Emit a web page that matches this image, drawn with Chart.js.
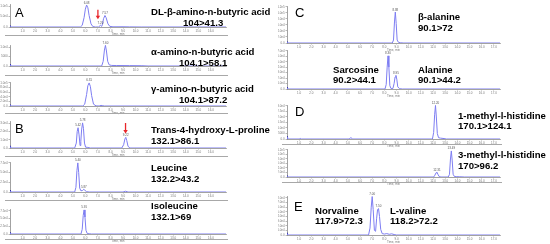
<!DOCTYPE html>
<html><head><meta charset="utf-8">
<script src="https://cdn.jsdelivr.net/npm/chart.js@4/dist/chart.umd.min.js"></script>
<style>
html,body{margin:0;padding:0;background:#fff;}
#wrap{position:relative;width:550px;height:244px;overflow:hidden;background:#fff;}
canvas{position:absolute;}
.t{position:absolute;font-family:"Liberation Sans",Arial,sans-serif;font-weight:bold;font-size:9.6px;line-height:10px;color:#000;white-space:nowrap;}
.p{position:absolute;font-family:"Liberation Sans",Arial,sans-serif;font-size:13px;line-height:13px;color:#000;}
.sep{position:absolute;height:1px;background:#a8a8a8;}
</style></head>
<body><div id="wrap"></div>
<script>
// ---------- DATA ----------
const xTicksLeft = [1,2,3,4,5,6,7,8,9,10,11,12,13,14,15,16];
const xTicksRight = [1,2,3,4,5,6,7,8,9,10,11,12,13,14,15,16,17];

// A: DL-beta-amino-n-butyric acid 104>41.3
const a1Time = [0,0.05,0.1,5.6,5.75,5.9,6.0,6.1,6.2,6.3,6.45,6.6,6.8,7.05,7.2,7.3,7.35,7.45,7.56,7.65,7.8,7.95,8.2,9.0,9.5,10.5,17.2];
const a1Int  = [2000,0,0,0,8000,45000,85000,105000,92000,55000,15000,2000,0,0,8000,3000,10000,40000,55000,45000,15000,3000,800,1000,500,0,0];
const a1YTicks = [0,50000,100000];
// alpha-amino-n-butyric acid 104.1>58.1
const a2Time = [0,0.05,0.1,7.3,7.42,7.52,7.6,7.68,7.78,7.9,8.1,8.5,9.5,10.5,11.0,17.2];
const a2Int  = [600,0,0,0,2500,8500,11000,8000,2500,600,300,250,200,150,0,0];
const a2YTicks = [0,5000,10000];
// gamma-amino-n-butyric acid 104.1>87.2
const a3Time = [0,0.05,0.1,5.8,5.95,6.1,6.2,6.3,6.4,6.5,6.65,6.85,7.1,7.25,7.35,7.5,17.2];
const a3Int  = [2500,0,0,0,8000,50000,88000,100000,85000,45000,8000,500,0,2500,2000,0,0];
const a3YTicks = [0,20000,40000,60000,80000,100000];
// B: Trans-4-hydroxy-L-proline 132.1>86.1
const b1Time = [0,0.05,0.1,5.15,5.28,5.35,5.42,5.5,5.58,5.64,5.7,5.78,5.85,5.93,6.02,6.15,6.4,8.9,9.05,9.15,9.22,9.3,9.4,9.55,17.2];
const b1Int  = [1500,0,0,0,6000,20000,24700,16000,3000,8000,22000,30600,24000,6000,1000,800,0,0,4000,11000,13000,9000,2000,0,0];
const b1YTicks = [0,10000,20000,30000];
// Leucine 132.2>43.2
const b2Time = [0,0.05,0.1,5.15,5.25,5.33,5.4,5.47,5.55,5.65,5.78,5.88,5.96,6.1,6.3,9.0,9.2,9.4,17.2];
const b2Int  = [2500,0,0,0,12000,55000,75000,50000,10000,3000,4000,7000,4500,800,0,0,2000,0,0];
const b2YTicks = [0,25000,50000,75000];
// Isoleucine 132.1>69
const b3Time = [0,0.05,0.1,5.65,5.75,5.83,5.9,5.97,6.05,6.15,6.3,6.5,17.2];
const b3Int  = [2500,0,0,0,15000,60000,78000,55000,12000,1500,800,0,0];
const b3YTicks = [0,25000,50000,75000];
// C: beta-alanine 90.1>72
const c1Time = [0,0.05,0.1,8.65,8.75,8.83,8.9,8.97,9.05,9.15,9.3,9.6,17.5];
const c1Int  = [2000,0,0,0,10000,70000,103000,65000,10000,2500,800,0,0];
const c1YTicks = [0,20000,40000,60000,80000,100000,120000];
// Sarcosine 90.2>44.1 / Alanine 90.1>44.2
const c2Time = [0,0.05,0.1,8.05,8.15,8.23,8.3,8.37,8.45,8.55,8.7,8.8,8.88,8.95,9.02,9.1,9.25,9.5,17.5];
const c2Int  = [2000,0,0,0,8000,40000,60700,40000,6000,800,1000,10000,22000,25000,18000,4000,500,0,0];
const c2YTicks = [0,10000,20000,30000,40000,50000,60000,70000];
// D: 1-methyl-l-histidine 170.1>124.1
const d1Time = [0,0.05,0.1,1.0,1.1,1.2,5.1,5.25,5.4,11.95,12.05,12.13,12.2,12.27,12.35,12.45,12.6,12.9,13.1,17.5];
const d1Int  = [1500,0,0,0,500,0,0,1200,0,0,6000,22000,30500,20000,5000,1200,800,400,0,0];
const d1YTicks = [0,5000,10000,15000,20000,25000,30000];
// 3-methyl-l-histidine 170>96.2
const d2Time = [0,0.05,0.1,12.05,12.15,12.25,12.32,12.4,12.5,12.65,13.25,13.35,13.43,13.5,13.57,13.65,13.75,13.9,14.2,14.6,17.5];
const d2Int  = [2000,0,0,0,8000,19000,21000,12000,2000,0,0,12000,80000,115700,75000,12000,2500,1500,1000,0,0];
const d2YTicks = [0,20000,40000,60000,80000,100000,120000];
// E: Norvaline 117.9>72.3 / L-valine 118.2>72.2
const eTime = [0,0.05,0.1,6.7,6.82,6.92,7.0,7.08,7.18,7.28,7.36,7.44,7.52,7.6,7.7,7.82,8.0,8.2,8.4,8.6,8.8,9.0,17.5];
const eInt  = [2500,0,0,0,15000,60000,83000,55000,10000,8000,35000,55000,57000,40000,12000,3000,2000,3000,1500,2500,1000,0,0];
const eYTicks = [0,10000,20000,30000,40000,50000,60000,70000,80000];

// peak retention-time labels
const a1Peaks = [[6.1,'6.08'],[7.2,'7.20'],[7.56,'7.57']];
const a2Peaks = [[7.6,'7.60']];
const a3Peaks = [[6.3,'6.31']];
const b1Peaks = [[5.42,'5.42'],[5.78,'5.78'],[9.22,'9.22']];
const b2Peaks = [[5.4,'5.40'],[5.88,'5.87']];
const b3Peaks = [[5.9,'5.91']];
const c1Peaks = [[8.9,'8.88']];
const c2Peaks = [[8.3,'8.30'],[8.95,'8.95']];
const d1Peaks = [[12.2,'12.20']];
const d2Peaks = [[12.32,'12.31'],[13.5,'13.49']];
const ePeaks  = [[7.0,'7.00'],[7.52,'7.50']];

// red arrows: [time, topValue, bottomValue]
const a1Arrow = [7.0, 82500, 36700];
const b1Arrow = [9.2, 30500, 17600];

// ---------- DRAWING ----------
const wrap = document.getElementById('wrap');
function fmtY(v){
  if (v === 0) return '0.0';
  if (v < 10000) return String(v);
  const e = Math.floor(Math.log10(v));
  return (v/Math.pow(10,e)).toFixed(1)+'e'+e;
}
const peakPlugin = {
  id:'peakPlugin',
  afterDatasetsDraw(chart){
    const o = chart.options.plugins.peakPlugin || {};
    const ctx = chart.ctx, xs = chart.scales.x, ys = chart.scales.y;
    const pts = chart.data.datasets[0].data;
    ctx.save();
    ctx.font = '3px "Liberation Sans", Arial';
    ctx.fillStyle = '#555';
    ctx.textAlign = 'center';
    ctx.textBaseline = 'bottom';
    (o.peaks||[]).forEach(([t,lab])=>{
      let best = 0;
      pts.forEach(p=>{ if (Math.abs(p.x-t) < 0.08 && p.y > best) best = p.y; });
      ctx.fillText(lab, xs.getPixelForValue(t), ys.getPixelForValue(best)-0.8);
    });
    if (o.arrow){
      const [t,v1,v2] = o.arrow;
      const x = xs.getPixelForValue(t), y1 = ys.getPixelForValue(v1), y2 = ys.getPixelForValue(v2);
      ctx.strokeStyle = '#e8252a'; ctx.fillStyle = '#e8252a'; ctx.lineWidth = 1.3;
      ctx.beginPath(); ctx.moveTo(x,y1); ctx.lineTo(x,y2-3); ctx.stroke();
      ctx.beginPath(); ctx.moveTo(x-2.2,y2-3.5); ctx.lineTo(x+2.2,y2-3.5); ctx.lineTo(x,y2); ctx.closePath(); ctx.fill();
    }
    ctx.restore();
  }
};

function makeChart(g, times, ints, yTicks, ymax, xmax, xTicks, peaks, arrow){
  const yW = g.yW, xH = 9, padT = 3;
  const cv = document.createElement('canvas');
  const w = g.R - g.L + yW + 2, h = g.B - g.T + padT + xH;
  cv.width = w; cv.height = h;
  cv.style.left = (g.L - yW) + 'px'; cv.style.top = (g.T - padT) + 'px';
  cv.style.width = w + 'px'; cv.style.height = h + 'px';
  wrap.appendChild(cv);
  const axisCol = '#8a8a8a';
  new Chart(cv, {
    type:'line',
    data:{datasets:[
      {data: times.map((t,i)=>({x:t,y:ints[i]})), borderColor:'#7d7df2', borderWidth:1, pointRadius:0, tension:0, fill:false},
      {data: [{x:times[0], y:ints[0]}], showLine:false, pointStyle:'rect', pointRadius:1.4, backgroundColor:'#2b2b95', borderWidth:0}
    ]},
    options:{
      responsive:false, animation:false, events:[], devicePixelRatio:1,
      layout:{padding:{top:padT,right:2,left:0,bottom:0}},
      plugins:{legend:{display:false}, tooltip:{enabled:false}, peakPlugin:{peaks:peaks, arrow:arrow}},
      scales:{
        x:{type:'linear', min:0, max:xmax,
          afterFit:s=>{s.height = xH;},
          afterBuildTicks:s=>{s.ticks = xTicks.map(v=>({value:v}));},
          ticks:{font:{size:3}, color:'#777', padding:0.5, maxRotation:0, autoSkip:false, callback:v=>Number(v).toFixed(1)},
          grid:{drawOnChartArea:false, tickLength:1.5, color:axisCol, lineWidth:0.6},
          border:{color:axisCol, width:0.8},
          title:{display:true, text:'Time, min', font:{size:3}, color:'#777', padding:{top:0.5,bottom:0}}
        },
        y:{min:0, max:ymax,
          afterFit:s=>{s.width = yW;},
          afterBuildTicks:s=>{s.ticks = yTicks.map(v=>({value:v}));},
          ticks:{font:{size:3}, color:'#777', padding:0.8, autoSkip:false, callback:v=>fmtY(v)},
          grid:{drawOnChartArea:false, tickLength:1.5, color:axisCol, lineWidth:0.6},
          border:{color:axisCol, width:0.8}
        }
      }
    },
    plugins:[peakPlugin]
  });
}

// left column
makeChart({L:10,R:228,T:3,B:27,yW:10}, a1Time, a1Int, a1YTicks, 110000, 17.2, xTicksLeft, a1Peaks, a1Arrow);
makeChart({L:10,R:228,T:44,B:66,yW:10}, a2Time, a2Int, a2YTicks, 11200, 17.2, xTicksLeft, a2Peaks, null);
makeChart({L:10,R:228,T:81,B:106,yW:10}, a3Time, a3Int, a3YTicks, 104000, 17.2, xTicksLeft, a3Peaks, null);
makeChart({L:10,R:228,T:120,B:148,yW:10}, b1Time, b1Int, b1YTicks, 32900, 17.2, xTicksLeft, b1Peaks, b1Arrow);
makeChart({L:10,R:228,T:161,B:192,yW:10}, b2Time, b2Int, b2YTicks, 77300, 17.2, xTicksLeft, b2Peaks, null);
makeChart({L:10,R:228,T:208,B:234,yW:10}, b3Time, b3Int, b3YTicks, 81000, 17.2, xTicksLeft, b3Peaks, null);
// right column
makeChart({L:287,R:502,T:5,B:43,yW:9}, c1Time, c1Int, c1YTicks, 123000, 17.5, xTicksRight, c1Peaks, null);
makeChart({L:287,R:502,T:49,B:89,yW:9}, c2Time, c2Int, c2YTicks, 71400, 17.5, xTicksRight, c2Peaks, null);
makeChart({L:287,R:502,T:104,B:139,yW:9}, d1Time, d1Int, d1YTicks, 30900, 17.5, xTicksRight, d1Peaks, null);
makeChart({L:287,R:502,T:148,B:177,yW:9}, d2Time, d2Int, d2YTicks, 124300, 17.5, xTicksRight, d2Peaks, null);
makeChart({L:287,R:502,T:195,B:235,yW:9}, eTime, eInt, eYTicks, 84200, 17.5, xTicksRight, ePeaks, null);

// separators
[[5,228,35],[5,228,75],[5,228,113],[5,228,156],[5,228,200],[5,228,239],[282,502,144],[282,502,182]].forEach(([x1,x2,y])=>{
  const d = document.createElement('div'); d.className='sep';
  d.style.left=x1+'px'; d.style.width=(x2-x1)+'px'; d.style.top=y+'px'; wrap.appendChild(d);
});

// labels
const labels = [
  ['DL-β-amino-n-butyric acid',151,12],['104>41.3',183,23],
  ['α-amino-n-butyric acid',151,52],['104.1>58.1',179,63],
  ['γ-amino-n-butyric acid',151,89],['104.1>87.2',179,100],
  ['Trans-4-hydroxy-L-proline',151,130],['132.1>86.1',151,141],
  ['Leucine',151,168],['132.2>43.2',151,179],
  ['Isoleucine',151,206],['132.1>69',151,217],
  ['β-alanine',418,17],['90.1>72',418,28],
  ['Sarcosine',333,70],['90.2>44.1',333,80],
  ['Alanine',418,70],['90.1>44.2',418,80],
  ['1-methyl-l-histidine',458,116],['170.1>124.1',458,126],
  ['3-methyl-l-histidine',458,155],['170>96.2',458,166],
  ['Norvaline',315,211],['117.9>72.3',315,221],
  ['L-valine',390,211],['118.2>72.2',390,221]
];
labels.forEach(([s,x,y])=>{
  const d=document.createElement('div'); d.className='t'; d.textContent=s;
  d.style.left=x+'px'; d.style.top=(y-5)+'px'; wrap.appendChild(d);
});
[['A',15,12],['B',15,128],['C',295,12],['D',295,111],['E',294,206]].forEach(([s,x,y])=>{
  const d=document.createElement('div'); d.className='p'; d.textContent=s;
  d.style.left=x+'px'; d.style.top=(y-6.5)+'px'; wrap.appendChild(d);
});
</script>
</body></html>
